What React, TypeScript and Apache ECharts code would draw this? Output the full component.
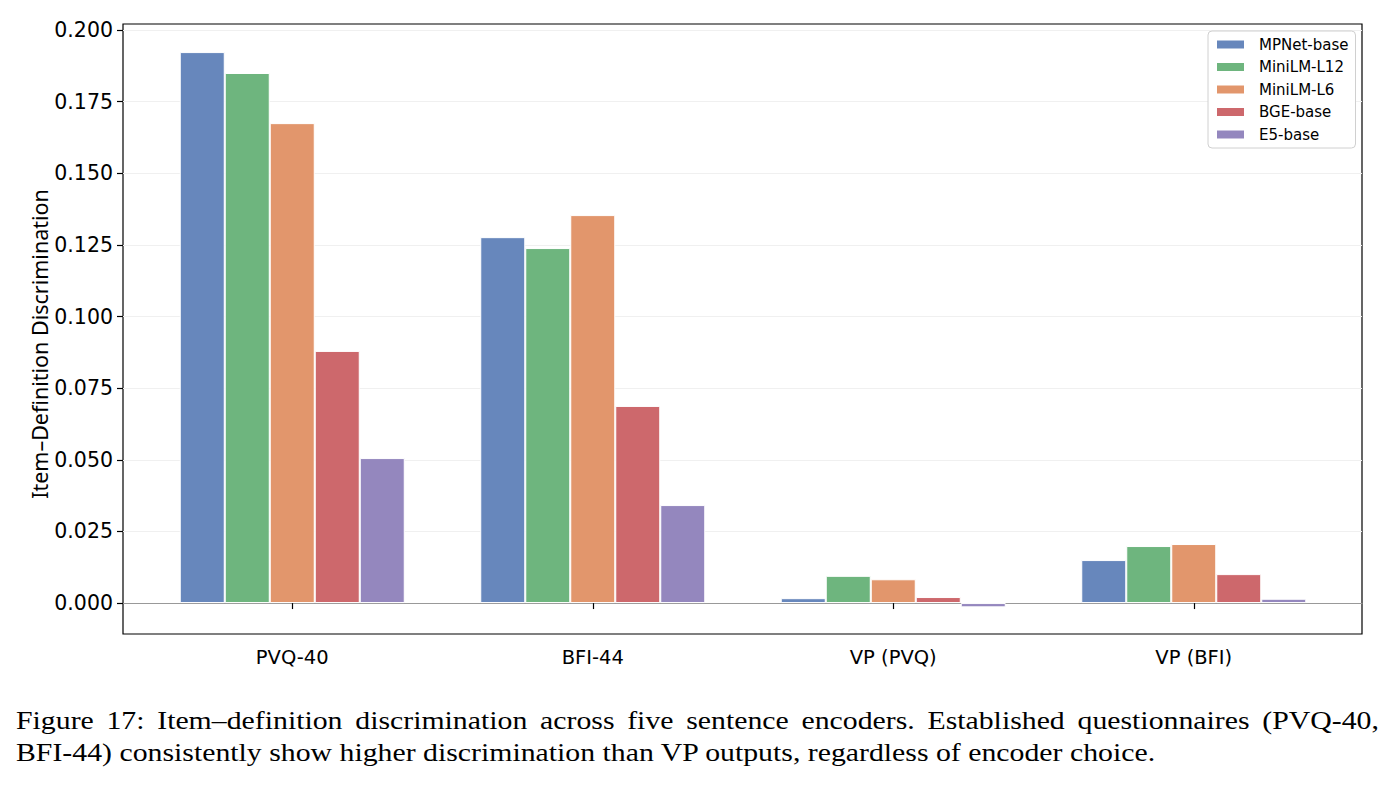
import React, { useEffect, useRef } from "react";
import * as echarts from "echarts";

const categories = ["PVQ-40", "BFI-44", "VP (PVQ)", "VP (BFI)"];
const seriesNames = ["MPNet-base", "MiniLM-L12", "MiniLM-L6", "BGE-base", "E5-base"];
const mpnet = [0.1923, 0.1277, 0.0017, 0.015];
const minilmL12 = [0.185, 0.1239, 0.0095, 0.0199];
const minilmL6 = [0.1675, 0.1354, 0.0083, 0.0206];
const bge = [0.088, 0.0688, 0.0021, 0.0101];
const e5 = [0.0506, 0.0342, -0.0015, 0.0015];
const seriesValues = [mpnet, minilmL12, minilmL6, bge, e5];
const colors = ["#6787bc", "#6eb57e", "#e2966c", "#cd686c", "#9487be"];
const yTicks = [0, 0.025, 0.05, 0.075, 0.1, 0.125, 0.15, 0.175, 0.2];

const yMin = -0.0108;
const yMax = 0.2021;

const caption1 =
  "Figure 17: Item–definition discrimination across five sentence encoders. Established questionnaires (PVQ-40,";
const caption2 =
  "BFI-44) consistently show higher discrimination than VP outputs, regardless of encoder choice.";

const captionFont = 26;
const captionScaleX = 29.8 / 26;
const captionFamily = "Liberation Serif";

function justifiedLine(text: string, x0: number, x1: number, y: number) {
  const words = text.split(" ");
  const canvas = document.createElement("canvas");
  const ctx = canvas.getContext("2d");
  const font = `${captionFont}px '${captionFamily}'`;
  let widths: number[] = words.map((w) => w.length * captionFont * 0.45 * captionScaleX);
  if (ctx) {
    ctx.font = font;
    widths = words.map((w) => ctx.measureText(w).width * captionScaleX);
  }
  const total = widths.reduce((a, b) => a + b, 0);
  const gap = (x1 - x0 - total) / (words.length - 1);
  const out: any[] = [];
  let x = x0;
  words.forEach((w, i) => {
    out.push({
      type: "text",
      x,
      y,
      scaleX: captionScaleX,
      style: {
        text: w,
        fontSize: captionFont,
        fontFamily: captionFamily,
        fill: "#000",
        align: "left",
        verticalAlign: "middle",
      },
    });
    x += widths[i] + gap;
  });
  return out;
}

export default function App() {
  const ref = useRef<HTMLDivElement>(null);
  useEffect(() => {
    if (!ref.current) return;
    const chart = echarts.init(ref.current, null, { renderer: "svg" });
    const top = 24;
    const bottom = 794 - 634;
    const option: any = {
      animation: false,
      backgroundColor: "#ffffff",
      grid: [
        { left: 123, right: 1395 - 1362, top, bottom, show: true, borderColor: "#000", borderWidth: 1.2, backgroundColor: "transparent" },
        { left: 142, right: 1395 - 1344, top, bottom, show: false },
      ],
      xAxis: [
        {
          type: "value",
          gridIndex: 0,
          min: 0,
          max: 1,
          axisLabel: { show: false },
          axisTick: { show: false },
          splitLine: { show: false },
          axisLine: { show: true, onZero: true, lineStyle: { color: "#999", width: 1 } },
        },
        {
          type: "category",
          gridIndex: 1,
          data: categories,
          axisLine: { show: false },
          axisTick: { show: true, alignWithLabel: true, length: 6, lineStyle: { color: "#000", width: 1.2 } },
          axisLabel: { margin: 13, fontSize: 19.5, color: "#000", fontFamily: "DejaVu Sans" },
        },
      ],
      yAxis: [
        {
          type: "value",
          gridIndex: 0,
          min: yMin,
          max: yMax,
          axisLine: { show: false },
          axisTick: { show: true, length: 6, lineStyle: { color: "#000", width: 1.2 }, customValues: yTicks },
          axisLabel: {
            margin: 10,
            fontSize: 20.5,
            color: "#000",
            fontFamily: "DejaVu Sans",
            customValues: yTicks,
            formatter: (v: number) => v.toFixed(3),
          },
          splitLine: { show: true, lineStyle: { color: "#f0f0f0", width: 1 } },
        },
        {
          type: "value",
          gridIndex: 1,
          min: yMin,
          max: yMax,
          show: false,
          splitLine: { show: false },
        },
      ],
      legend: {
        orient: "vertical",
        left: 1208,
        top: 31,
        padding: [6, 7, 6, 7],
        itemWidth: 29,
        itemHeight: 10,
        itemGap: 7.5,
        borderColor: "#d0d0d0",
        borderWidth: 1,
        borderRadius: 4,
        backgroundColor: "#fff",
        data: seriesNames,
        textStyle: { fontSize: 15, lineHeight: 14.7, color: "#000", fontFamily: "DejaVu Sans", padding: [0, 0, 0, 9] },
        icon: "rect",
      },
      series: seriesValues.map((vals, i) => ({
        name: seriesNames[i],
        type: "bar",
        xAxisIndex: 1,
        yAxisIndex: 1,
        data: vals,
        barWidth: 45,
        barGap: "0%",
        itemStyle: { color: colors[i], borderColor: "#fff", borderWidth: 1 },
      })),
      graphic: [
        {
          type: "text",
          x: 39,
          y: 344,
          rotation: Math.PI / 2,
          style: {
            text: "Item–Definition Discrimination",
            fontSize: 21.5,
            fontFamily: "Noto Sans",
            fill: "#000",
            align: "center",
            verticalAlign: "middle",
          },
        },
        ...justifiedLine(caption1, 16, 1379, 720),
        {
          type: "text",
          x: 16,
          y: 752,
          scaleX: captionScaleX,
          style: {
            text: caption2,
            fontSize: captionFont,
            fontFamily: captionFamily,
            fill: "#000",
            align: "left",
            verticalAlign: "middle",
          },
        },
      ],
    };
    chart.setOption(option);
    return () => chart.dispose();
  }, []);
  return (
    <div
      ref={ref}
      style={{ position: "fixed", left: 0, top: 0, width: 1395, height: 794, background: "#fff" }}
    />
  );
}
